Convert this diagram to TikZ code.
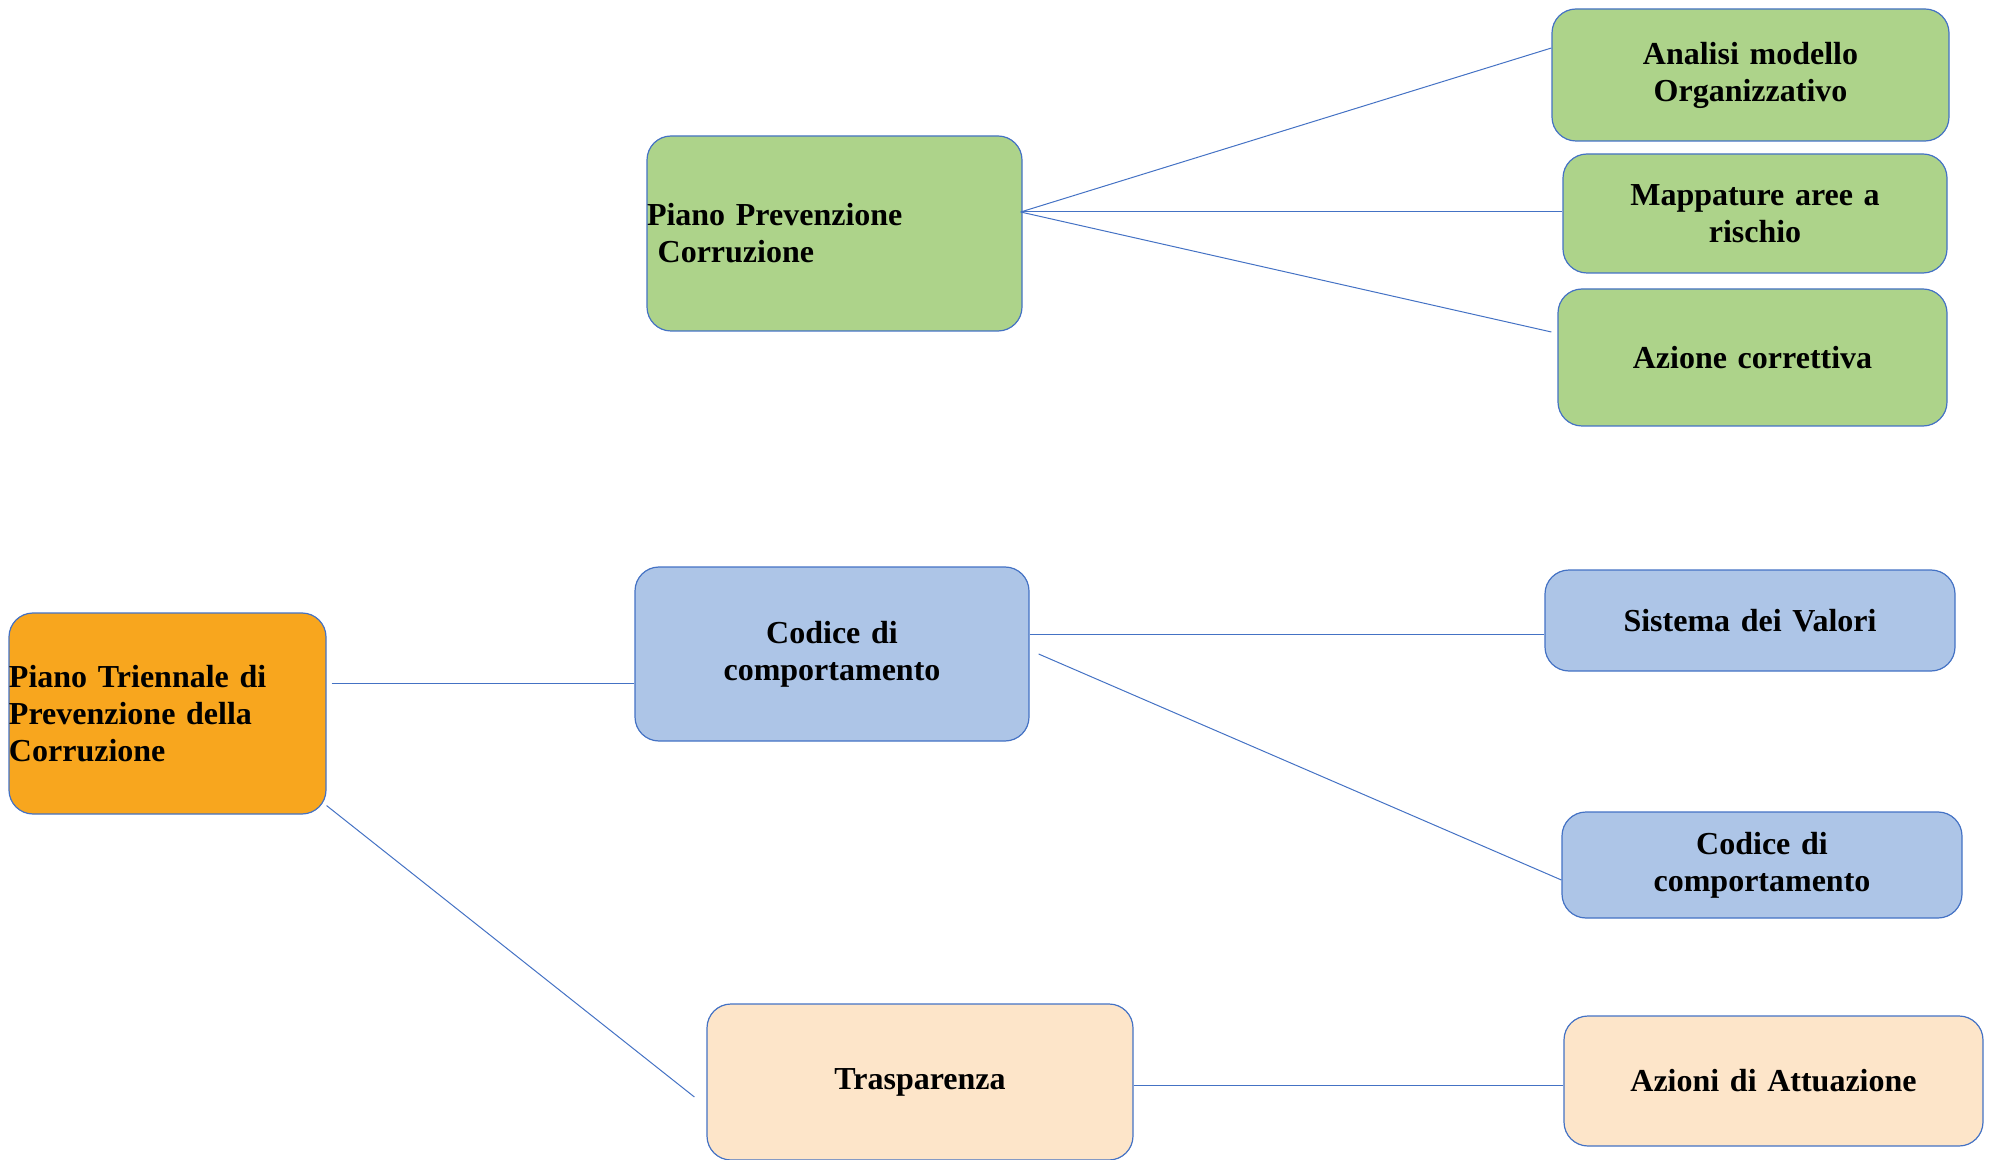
\documentclass[tikz,border=0pt]{standalone}
\usepackage{fontspec}
\setmainfont{Liberation Serif}
\usepackage{tikz}
\usetikzlibrary{calc}
\definecolor{bordo}{HTML}{4472C4}
\definecolor{arancio}{HTML}{F8A61E}
\definecolor{verde}{HTML}{ADD38A}
\definecolor{azzurro}{HTML}{ADC5E7}
\definecolor{pesca}{HTML}{FDE5C9}
\tikzset{
  mapnode/.style = {draw=bordo, line width=0.6pt, rounded corners=12pt,
    inner sep=0pt, font=\bfseries\fontsize{16}{18.5}\selectfont},
  map_o/.style = {mapnode, fill=arancio, align=left},
  map_g/.style = {mapnode, fill=verde, align=center},
  map_b/.style = {mapnode, fill=azzurro, align=center},
  map_p/.style = {mapnode, fill=pesca, align=center},
  link/.style = {draw=bordo, line width=0.5pt}
}
\begin{document}
\begin{tikzpicture}[x=0.5pt,y=-0.5pt]
\useasboundingbox (0,0) rectangle (1992,1160);

\node[map_o, text width=158.5pt, minimum height=100.5pt] (root) at (167.5,713.5)
  {Piano Triennale di\\Prevenzione della\\Corruzione};

% piano prevenzione
\node[map_g, align=left, text width=187.5pt, minimum height=97.5pt] (ppc) at (834.5,233.5)
  {Piano Prevenzione\\~Corruzione};
\node[map_g, text width=198.5pt, minimum height=66pt] (analisi) at (1750.5,75)
  {Analisi modello\\Organizzativo};
\node[map_g, text width=192pt, minimum height=59.5pt] (mappe) at (1755,213.5)
  {Mappature aree a\\rischio};
\node[map_g, text width=194.5pt, minimum height=68.5pt] (azione) at (1752.5,357.5)
  {Azione correttiva};

% codice di comportamento
\node[map_b, text width=197pt, minimum height=87pt] (codice) at (832,654)
  {Codice di\\comportamento};
\node[map_b, text width=205pt, minimum height=50.5pt] (valori) at (1750,620.5)
  {Sistema dei Valori};
\node[map_b, text width=200pt, minimum height=53pt] (codice_b) at (1762,865)
  {Codice di\\comportamento};

% trasparenza
\node[map_p, text width=213pt, minimum height=78pt] (trasp) at (920,1082)
  {Trasparenza};
\node[map_p, text width=209.5pt, minimum height=65pt] (attua) at (1773.5,1081)
  {Azioni di Attuazione};

\coordinate (rc) at ([shift={(5,-30)}]root.east);
\coordinate (hub) at ([shift={(-2,-21.5)}]ppc.east);
\coordinate (cv) at ([shift={(0,-20)}]codice.east);
\coordinate (ta) at ([shift={(0,3)}]trasp.east);

\draw[link] (rc) -- (rc -| codice.west);
\draw[link] ([shift={(0,-9)}]root.south east) -- ([shift={(-12,15)}]trasp.west);
\draw[link] (hub) -- ([shift={(0,-27)}]analisi.west);
\draw[link] (hub) -- (hub -| mappe.west);
\draw[link] (hub) -- ([shift={(-6,-25.5)}]azione.west);
\draw[link] (cv) -- (cv -| valori.west);
\draw[link] ([shift={(9,0)}]codice.east) -- ([shift={(0,15)}]codice_b.west);
\draw[link] (ta) -- (ta -| attua.west);
\end{tikzpicture}
\end{document}
